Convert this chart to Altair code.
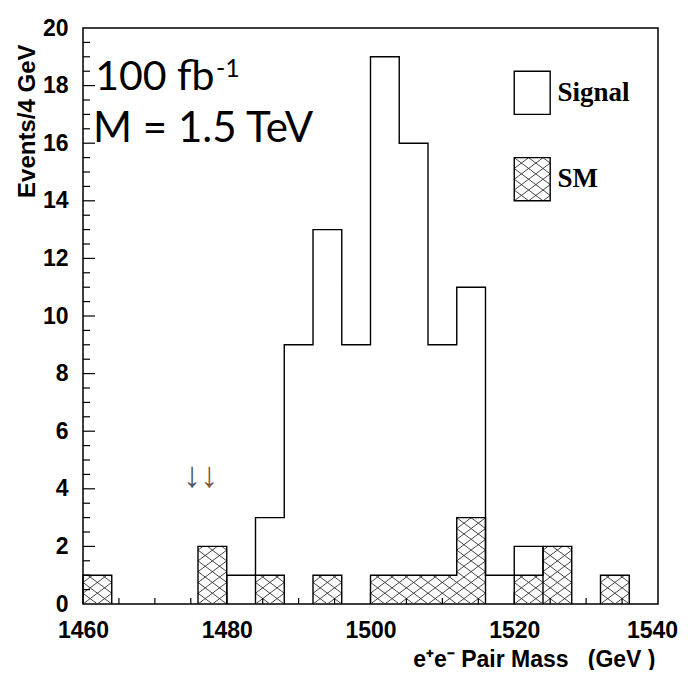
import math
import altair as alt
import pandas as pd

# ---------------- data ----------------
bin_lo = [1460, 1464, 1468, 1472, 1476, 1480, 1484, 1488, 1492, 1496,
          1500, 1504, 1508, 1512, 1516, 1520, 1524, 1528, 1532, 1536]
signal = [0, 0, 0, 0, 0, 1, 3, 9, 13, 9, 19, 16, 9, 11, 1, 2, 0, 0, 0, 0]
sm = [1, 0, 0, 0, 2, 0, 1, 0, 1, 0, 1, 1, 1, 3, 0, 1, 2, 0, 1, 0]
bin_width = 4

x_tick_labels = [1460, 1480, 1500, 1520, 1540]
y_tick_labels = [0, 2, 4, 6, 8, 10, 12, 14, 16, 18, 20]
x_minor = [1465, 1470, 1475, 1485, 1490, 1495, 1505, 1510, 1515, 1525, 1530, 1535]
x_major = [1480, 1500, 1520]
y_major = [2, 4, 6, 8, 10, 12, 14, 16, 18]
y_minor = [0.5, 1, 1.5, 2.5, 3, 3.5, 4.5, 5, 5.5, 6.5, 7, 7.5, 8.5, 9, 9.5,
           10.5, 11, 11.5, 12.5, 13, 13.5, 14.5, 15, 15.5, 16.5, 17, 17.5,
           18.5, 19, 19.5]
y_minor = [v for v in y_minor if v not in y_major]

legend_items = ["Signal", "SM"]
legend_box_x = [1520, 1525]
legend_box_y = {"Signal": [17.0, 18.5], "SM": [14.0, 15.5]}

# ---------------- derived tables ----------------
W, H = 575, 576
xscale = alt.Scale(domain=[1460, 1540], nice=False, zero=False)
yscale = alt.Scale(domain=[0, 20], nice=False, zero=True)
px_x = W / 80.0
px_y = H / 20.0


def outline(values, run_prefix):
    """Histogram outline (ROOT style) for each contiguous run of non-zero bins."""
    rows = []
    run = 0
    i = 0
    n = len(values)
    while i < n:
        if values[i] > 0:
            j = i
            o = 0
            rid = f"{run_prefix}{run}"
            rows.append({"x": bin_lo[i], "y": 0, "o": o, "run": rid})
            while j < n and values[j] > 0:
                o += 1
                rows.append({"x": bin_lo[j], "y": values[j], "o": o, "run": rid})
                o += 1
                rows.append({"x": bin_lo[j] + bin_width, "y": values[j], "o": o, "run": rid})
                j += 1
            rows.append({"x": bin_lo[j - 1] + bin_width, "y": 0, "o": o + 1, "run": rid})
            run += 1
            i = j
        else:
            i += 1
    return pd.DataFrame(rows)


sig_df = outline(signal, "s")
sm_line_df = outline(sm, "b")


def hatch_segments(x0, x1, y0, y1, d=2.0, slope_px=0.75, origin=1460):
    s = slope_px * px_x / px_y
    segs = []
    L = (y1 - y0) / s
    k0 = math.floor((x0 - L - origin) / d) - 1
    k1 = math.ceil((x1 + L - origin) / d) + 1
    for k in range(k0, k1 + 1):
        c = origin + k * d
        a, b = max(x0, c), min(x1, c + L)
        if b - a > 1e-9:
            segs.append({"x": a, "y": y0 + s * (a - c), "x2": b, "y2": y0 + s * (b - c)})
        a, b = max(x0, c - L), min(x1, c)
        if b - a > 1e-9:
            segs.append({"x": a, "y": y0 + s * (c - a), "x2": b, "y2": y0 + s * (c - b)})
    return segs


hatch = []
for lo, v in zip(bin_lo, sm):
    if v > 0:
        hatch += hatch_segments(lo, lo + bin_width, 0, v)
hatch += hatch_segments(legend_box_x[0], legend_box_x[1],
                        legend_box_y["SM"][0], legend_box_y["SM"][1], origin=1520)
hatch_df = pd.DataFrame(hatch)

ticks = []
for v in x_major:
    ticks.append({"x": v, "x2": v, "y": 0, "y2": 12 / px_y})
for v in x_minor:
    ticks.append({"x": v, "x2": v, "y": 0, "y2": 6 / px_y})
for v in y_major:
    ticks.append({"x": 1460, "x2": 1460 + 12 / px_x, "y": v, "y2": v})
for v in y_minor:
    ticks.append({"x": 1460, "x2": 1460 + 7 / px_x, "y": v, "y2": v})
ticks_df = pd.DataFrame(ticks)

legend_df = pd.DataFrame([
    {"item": it, "x": legend_box_x[0], "x2": legend_box_x[1],
     "y": legend_box_y[it][0], "y2": legend_box_y[it][1],
     "tx": 1526.0, "ty": (legend_box_y[it][0] + legend_box_y[it][1]) / 2}
    for it in legend_items
])

# ---------------- axes ----------------
x_axis = alt.Axis(values=x_tick_labels, format="d", ticks=False, domain=False, grid=False,
                  labelFont="Liberation Sans", labelFontWeight="bold", labelFontSize=23,
                  labelColor="black", labelPadding=15, labelFlush=False, labelOverlap=False,
                  labelOffset=alt.ExprRef("datum.value == 1540 ? -6 : 0"),
                  title="e\u207ae\u207b Pair Mass\u00a0\u00a0\u00a0(GeV\u00a0)",
                  titleFont="Liberation Sans", titleFontWeight="bold", titleFontSize=23,
                  titleColor="black", titleAnchor="end", titleAlign="right",
                  titleBaseline="alphabetic", titleX=W - 3, titleY=62)
y_axis = alt.Axis(values=y_tick_labels, format="d", ticks=False, domain=False, grid=False,
                  labelFont="Liberation Sans", labelFontWeight="bold", labelFontSize=23,
                  labelColor="black", labelPadding=15, labelFlush=False, labelOverlap=False,
                  title="Events/4 GeV", titleFont="Liberation Sans", titleFontWeight="bold",
                  titleFontSize=24, titleColor="black", titleAngle=270, titleAlign="right",
                  titleBaseline="alphabetic", titleX=-49, titleY=16)


def X(field):
    return alt.X(field, scale=xscale, axis=x_axis)


def Y(field):
    return alt.Y(field, scale=yscale, axis=y_axis)


# ---------------- layers ----------------
hatch_layer = alt.Chart(hatch_df).mark_rule(color="#333333", strokeWidth=0.9).encode(
    x=X("x:Q"), x2="x2:Q", y=Y("y:Q"), y2="y2:Q",
)

sm_line = alt.Chart(sm_line_df).mark_line(color="black", strokeWidth=1.4).encode(
    x=X("x:Q"), y=Y("y:Q"), order="o:Q", detail="run:N",
)

sig_line = alt.Chart(sig_df).mark_line(color="black", strokeWidth=1.4).encode(
    x=X("x:Q"), y=Y("y:Q"), order="o:Q", detail="run:N",
)

tick_layer = alt.Chart(ticks_df).mark_rule(color="black", strokeWidth=1.2).encode(
    x=X("x:Q"), x2="x2:Q", y=Y("y:Q"), y2="y2:Q",
)

leg_box = alt.Chart(legend_df).mark_rect(fill=None, stroke="black", strokeWidth=1.4).encode(
    x=X("x:Q"), x2="x2:Q", y=Y("y:Q"), y2="y2:Q",
)
leg_text = alt.Chart(legend_df).mark_text(
    font="Liberation Serif", fontWeight="bold", fontSize=27, align="left",
    baseline="middle", color="black").encode(
    x=X("tx:Q"), y=Y("ty:Q"), text="item:N",
)

annot_df = pd.DataFrame([
    {"x": 1461.7, "y": 17.85, "t": "100 fb", "size": 41},
    {"x": 1461.4, "y": 16.04, "t": "M = 1.5 TeV", "size": 42},
])
annot = alt.Chart(annot_df).mark_text(font="Lato", align="left",
                                      baseline="alphabetic", color="black").encode(
    x=X("x:Q"), y=Y("y:Q"), text="t:N",
    size=alt.Size("size:Q", scale=None, legend=None),
)
sup = alt.Chart(pd.DataFrame([{"x": 1478.5, "y": 18.3, "t": "-1"}])).mark_text(
    font="Lato", fontSize=25, align="left", baseline="alphabetic", color="black").encode(
    x=X("x:Q"), y=Y("y:Q"), text="t:N",
)

arrows_df = pd.DataFrame([
    {"x": 1475.2, "y": 4.05, "t": "\u2193", "c": "#505866"},
    {"x": 1477.6, "y": 4.05, "t": "\u2193", "c": "#7a5a44"},
])
arrows = alt.Chart(arrows_df).mark_text(font="Liberation Sans", fontSize=36, align="center",
                                        baseline="alphabetic").encode(
    x=X("x:Q"), y=Y("y:Q"), text="t:N",
    color=alt.Color("c:N", scale=None, legend=None),
)

chart = alt.layer(
    hatch_layer, sm_line, sig_line, tick_layer, leg_box, leg_text,
    annot, sup, arrows,
).properties(
    width=W, height=H,
    padding={"left": 75, "top": 20, "right": 22, "bottom": 66},
    autosize=alt.AutoSizeParams(type="none"),
    background="white",
).configure_view(stroke="black", strokeWidth=1.5)

chart.save("out.html", embed_options={"renderer": "svg", "actions": False})
